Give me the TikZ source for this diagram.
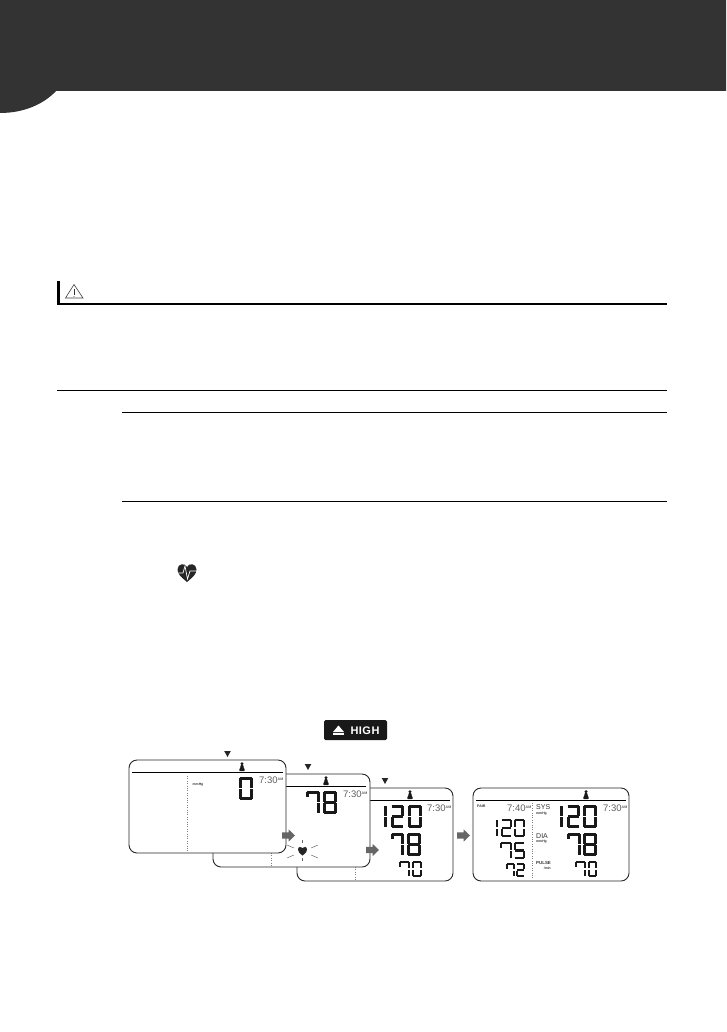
\documentclass[tikz,border=0pt]{standalone}
\usepackage{fontspec}
\setmainfont{Liberation Sans}
\tikzset{
  screenbox/.style={draw=black!85,line width=0.9pt,fill=white,rounded corners=8pt},
  headrule/.style={line width=1pt,black},
  thinrule/.style={line width=0.8pt,black},
  dotline/.style={line width=0.5pt,dash pattern=on 1pt off 1.4pt,black!50},
  lcdseg/.style={line width=2.7pt,black!90},
  lcdsmall/.style={line width=2.3pt,black!90},
  blockarrow/.style={fill=black!60,draw=none},
  mark tri/.style={fill=black!85,draw=none},
  lab/.style={inner sep=0pt,text=black!80},
}
\newcommand\lcddigit[6][lcdseg]{%
  \def\lcdst{#1}\def\xa{#2}\def\ya{#3}\def\xb{#4}\def\yb{#5}%
  \pgfmathsetmacro\ym{(#3+#5)/2}%
  \foreach \s in #6 {\csname lseg\s\endcsname}}
\def\lsega{\draw[\lcdst] (\xa+0.6,\ya+1.2)--(\xb-0.6,\ya+1.2);}
\def\lsegb{\draw[\lcdst] (\xb-1.2,\ya+1.2)--(\xb-1.2,\ym-0.6);}
\def\lsegc{\draw[\lcdst] (\xb-1.2,\ym+0.6)--(\xb-1.2,\yb-1.2);}
\def\lsegd{\draw[\lcdst] (\xa+0.6,\yb-1.2)--(\xb-0.6,\yb-1.2);}
\def\lsege{\draw[\lcdst] (\xa+1.2,\ym+0.6)--(\xa+1.2,\yb-1.2);}
\def\lsegf{\draw[\lcdst] (\xa+1.2,\ya+1.2)--(\xa+1.2,\ym-0.6);}
\def\lsegg{\draw[\lcdst] (\xa+0.8,\ym)--(\xb-0.8,\ym);}
\def\lsegh{\draw[\lcdst] (\xa+1.2,\ya+1.2)--(\xa+1.2,\ya+5.5);}
\def\dzero{a,b,c,d,e,f}
\def\done{b,c}
\def\dtwo{a,b,g,e,d}
\def\dfive{a,f,g,c,d}
\def\dseven{a,b,c,h}
\def\deight{a,b,c,d,e,f,g}
\newcommand\personicon[2]{%
  \fill[black!90] (#1,#2+1.7) circle (1.7);
  \fill[black!90,rounded corners=0.6pt] (#1-1.3,#2+3) -- (#1+1.3,#2+3) -- (#1+1.8,#2+6) -- (#1+2.7,#2+7) -- (#1+2.7,#2+9) -- (#1-2.7,#2+9) -- (#1-2.7,#2+7) -- (#1-1.8,#2+6) -- cycle;}
\newcommand\triangmark[2]{\fill[mark tri] (#1-3.3,#2) -- (#1+3.3,#2) -- (#1,#2+6) -- cycle;}
\newcommand\grayarrow[2]{\fill[blockarrow] (#1,#2-3.2) -- (#1+6.5,#2-3.2) -- (#1+6.5,#2-6.2) -- (#1+13,#2) -- (#1+6.5,#2+6.2) -- (#1+6.5,#2+3.2) -- (#1,#2+3.2) -- cycle;}
\newcommand\timelabel[4]{\node[lab,text=black!62,anchor=west,font=\fontsize{9.5}{10}\selectfont] (#4) at (#1,#2) {#3\raisebox{2.8pt}{\fontsize{3.6}{4}\selectfont\bfseries AM}};}
\begin{document}
\begin{tikzpicture}[x=1pt,y=-1pt]
\useasboundingbox (0,0) rectangle (726,1032);
% header band
\fill[black!80] (0,0) -- (726,0) -- (726,91) -- (56,91) .. controls (44,104) and (24,113) .. (0,113) -- cycle;
% warning heading
\fill[black] (57,281) rectangle (60,305);
\draw[line width=2pt,black] (57,304) -- (667,304);
\draw[line width=0.6pt,black!75,line join=miter] (74,284.5) -- (83,298) -- (65.5,298) -- cycle;
\draw[line width=0.9pt,black!80] (74,289) -- (74,294.5);
\fill[black!80] (74,296.3) circle (0.5);
% rules
\draw[thinrule] (57,390.5) -- (667,390.5);
\draw[thinrule] (122,412.5) -- (667,412.5);
\draw[thinrule] (122,501.5) -- (667,501.5);
% heart icon
\fill[black!85] (187,582) .. controls (181,577) and (177.5,574) .. (177.5,569.5) .. controls (177.5,563.5) and (185,562.5) .. (187,567) .. controls (189,562.5) and (196.5,563.5) .. (196.5,569.5) .. controls (196.5,574) and (193,577) .. (187,582) -- cycle;
\draw[white,line width=0.7pt] (177,573) -- (183,573) -- (185,566) -- (187.5,579) -- (190,571) -- (197,571);
% HIGH button
\fill[black!90,rounded corners=1.5pt] (324,720) rectangle (387,740);
\fill[white] (333,732) -- (338.5,725.5) -- (344,732) -- cycle;
\fill[white] (333,733.2) rectangle (344,734.6);
\node[lab,text=white,anchor=center,font=\bfseries\fontsize{11}{12}\selectfont] (high) at (365,730.3) {H\kern0.5pt I\kern0.5pt G\kern0.5pt H};
% panel 3
\triangmark{385}{778}
\draw[screenbox] (297,788) rectangle (453,881);
\draw[headrule] (300,800) -- (450,800);
\personicon{410}{790}
\lcddigit{383}{805}{386.5}{828}{\done}
\lcddigit{391}{805}{404}{828}{\dtwo}
\lcddigit{408}{805}{422}{828}{\dzero}
\lcddigit{391}{833}{404}{856}{\dseven}
\lcddigit{407}{833}{421}{856}{\deight}
\lcddigit[lcdsmall]{399}{861}{410}{877}{\dseven}
\lcddigit[lcdsmall]{412}{861}{422}{877}{\dzero}
\timelabel{427}{808.5}{7:30}{t3}
\draw[dotline] (355,867) -- (355,880);
% panel 2
\triangmark{308}{764}
\draw[screenbox] (213,774) rectangle (370,867);
\draw[headrule] (216,786) -- (366,786);
\personicon{326}{776}
\lcddigit{306}{791}{320}{814}{\dseven}
\lcddigit{323}{791}{337}{814}{\deight}
\timelabel{343}{794.5}{7:30}{t2}
\draw[dotline] (271,853) -- (271,866);
\grayarrow{366}{850}
% flashing heart
\fill[black!85] (302.5,855.5) .. controls (299,853) and (298,851.5) .. (298,849.5) .. controls (298,846.5) and (301.5,846) .. (302.5,848) .. controls (303.5,846) and (307,846.5) .. (307,849.5) .. controls (307,851.5) and (306,853) .. (302.5,855.5) -- cycle;
\draw[line width=0.5pt,black!60] (302.5,840) -- (302.5,843);
\draw[line width=0.5pt,black!60] (302.5,858) -- (302.5,861);
\draw[line width=0.5pt,black!60] (287,845) -- (294,848);
\draw[line width=0.5pt,black!60] (318,845) -- (311,848);
\draw[line width=0.5pt,black!60] (287,858) -- (294,855);
\draw[line width=0.5pt,black!60] (318,858) -- (311,855);
% panel 1
\triangmark{227.5}{751}
\draw[screenbox] (129,760) rectangle (286,853);
\draw[headrule] (132,772) -- (283,772);
\personicon{242}{762}
\draw[dotline] (187.6,776) -- (187.6,851);
\node[lab,font=\fontsize{3.4}{4}\selectfont\bfseries] (m1) at (198,785) {mmHg};
\lcddigit{239}{777}{253}{800}{\dzero}
\timelabel{259}{780.5}{7:30}{t1}
\grayarrow{282}{835.5}
% panel 4
\grayarrow{457}{835.5}
\draw[screenbox] (473,788) rectangle (629,881);
\draw[headrule] (476,800) -- (626,800);
\personicon{586}{790}
\draw[dotline] (532,803) -- (532,879);
\node[lab,anchor=west,font=\fontsize{3.6}{4}\selectfont\bfseries] (pair) at (477,806.5) {PAIR};
\timelabel{507}{808.5}{7:40}{t4a}
\timelabel{603}{808.5}{7:30}{t4b}
\node[lab,anchor=west,font=\fontsize{7}{8}\selectfont] (sys) at (536,807.5) {SYS};
\node[lab,anchor=west,font=\fontsize{3.4}{4}\selectfont\bfseries] (m2) at (536,813.5) {mmHg};
\node[lab,anchor=west,font=\fontsize{7}{8}\selectfont] (dia) at (536,836) {DIA};
\node[lab,anchor=west,font=\fontsize{3.4}{4}\selectfont\bfseries] (m3) at (536,842) {mmHg};
\node[lab,anchor=west,font=\fontsize{4.4}{5}\selectfont\bfseries] (pulse) at (536,863) {PULSE};
\node[lab,anchor=east,font=\fontsize{3.4}{4}\selectfont\bfseries] (minl) at (551,868) {/min};
\lcddigit[lcdsmall]{494.5}{819}{498}{837}{\done}
\lcddigit[lcdsmall]{501}{819}{512}{837}{\dtwo}
\lcddigit[lcdsmall]{514}{819}{525}{837}{\dzero}
\lcddigit[lcdsmall]{500}{842}{512}{859}{\dseven}
\lcddigit[lcdsmall]{514}{842}{525}{859}{\dfive}
\lcddigit[lcdsmall]{506}{863}{515}{877}{\dseven}
\lcddigit[lcdsmall]{516}{863}{525}{877}{\dtwo}
\lcddigit{559}{805}{562.5}{828}{\done}
\lcddigit{567}{805}{580}{828}{\dtwo}
\lcddigit{583}{805}{597}{828}{\dzero}
\lcddigit{567}{833}{581}{856}{\dseven}
\lcddigit{583}{833}{597}{856}{\deight}
\lcddigit[lcdsmall]{575}{861}{586}{877}{\dseven}
\lcddigit[lcdsmall]{588}{861}{597}{877}{\dzero}
\end{tikzpicture}
\end{document}
